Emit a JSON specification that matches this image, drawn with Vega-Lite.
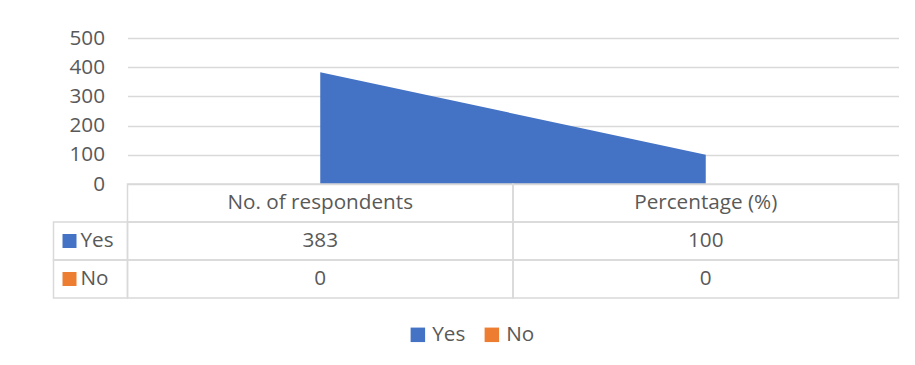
{
  "$schema": "https://vega.github.io/schema/vega-lite/v6.json",
  "width": 771,
  "height": 260,
  "autosize": {"type": "none"},
  "padding": {"left": 127.5, "top": 38, "right": 16.5, "bottom": 67},
  "background": "white",
  "config": {
    "view": {"stroke": null},
    "font": "Open Sans",
    "text": {"font": "Open Sans", "fontSize": 20.7, "fill": "#595959"}
  },
  "data": {
    "values": [
      {"series": "Yes", "category": "No. of respondents", "value": 383},
      {"series": "Yes", "category": "Percentage (%)", "value": 100},
      {"series": "No", "category": "No. of respondents", "value": 0},
      {"series": "No", "category": "Percentage (%)", "value": 0}
    ]
  },
  "resolve": {"scale": {"x": "independent", "y": "independent", "color": "independent"}},
  "layer": [
    {
      "mark": {"type": "area", "opacity": 1},
      "encoding": {
        "x": {"field": "category", "type": "nominal", "sort": null, "scale": {"type": "point", "domain": ["No. of respondents", "Percentage (%)"], "padding": 0.5}, "axis": null},
        "y": {"field": "value", "type": "quantitative", "stack": null,
          "scale": {"domain": [0, 500], "range": [146, 0], "nice": false, "zero": true},
          "axis": {"values": [0, 100, 200, 300, 400, 500], "grid": true, "gridColor": "#D9D9D9", "gridWidth": 1.5, "domain": false, "ticks": false, "tickSize": 0, "labelPadding": 23, "labelFontSize": 20.7, "labelColor": "#595959", "labelFont": "Open Sans", "title": null}},
        "color": {"field": "series", "type": "nominal",
          "scale": {"domain": ["Yes", "No"], "range": ["#4472C4", "#ED7D31"]},
          "legend": {"orient": "none", "legendX": 280, "legendY": 286, "direction": "horizontal", "title": null, "symbolType": "square", "symbolSize": 210, "symbolStrokeWidth": 0, "symbolOpacity": 1, "labelFontSize": 20.7, "labelColor": "#595959", "labelFont": "Open Sans", "labelOffset": 4, "columnPadding": 16, "padding": 0}}
      }
    },
    {
      "mark": {"type": "rect", "fill": "transparent", "stroke": "#D9D9D9", "strokeWidth": 1.5},
      "encoding": {
        "x": {"field": "category", "type": "nominal", "scale": {"type": "band", "domain": ["No. of respondents", "Percentage (%)"], "paddingInner": 0, "paddingOuter": 0}, "axis": null},
        "y": {"field": "series", "type": "nominal", "scale": {"type": "band", "domain": ["header", "Yes", "No"], "range": [146, 260], "paddingInner": 0, "paddingOuter": 0}, "axis": null}
      }
    },
    {
      "transform": [{"filter": "datum.series === 'Yes'"}],
      "mark": {"type": "rect", "fill": "transparent", "stroke": "#D9D9D9", "strokeWidth": 1.5},
      "encoding": {
        "x": {"field": "category", "type": "nominal", "scale": {"type": "band", "domain": ["No. of respondents", "Percentage (%)"], "paddingInner": 0, "paddingOuter": 0}, "axis": null},
        "y": {"datum": "header", "type": "nominal", "scale": {"type": "band", "domain": ["header", "Yes", "No"], "range": [146, 260], "paddingInner": 0, "paddingOuter": 0}, "axis": null}
      }
    },
    {
      "transform": [{"filter": "datum.category === 'No. of respondents'"}],
      "mark": {"type": "rect", "fill": "transparent", "stroke": "#D9D9D9", "strokeWidth": 1.5},
      "encoding": {
        "x": {"datum": "label", "type": "nominal", "scale": {"type": "band", "domain": ["label"], "range": [-74, 0], "paddingInner": 0, "paddingOuter": 0}, "axis": null},
        "y": {"field": "series", "type": "nominal", "scale": {"type": "band", "domain": ["header", "Yes", "No"], "range": [146, 260], "paddingInner": 0, "paddingOuter": 0}, "axis": null}
      }
    },
    {
      "mark": {"type": "text", "baseline": "middle", "align": "center"},
      "encoding": {
        "x": {"field": "category", "type": "nominal", "scale": {"type": "band", "domain": ["No. of respondents", "Percentage (%)"], "paddingInner": 0, "paddingOuter": 0}, "axis": null},
        "y": {"field": "series", "type": "nominal", "scale": {"type": "band", "domain": ["header", "Yes", "No"], "range": [146, 260], "paddingInner": 0, "paddingOuter": 0}, "axis": null},
        "text": {"field": "value", "type": "quantitative"}
      }
    },
    {
      "transform": [{"filter": "datum.series === 'Yes'"}],
      "mark": {"type": "text", "baseline": "middle", "align": "center"},
      "encoding": {
        "x": {"field": "category", "type": "nominal", "scale": {"type": "band", "domain": ["No. of respondents", "Percentage (%)"], "paddingInner": 0, "paddingOuter": 0}, "axis": null},
        "y": {"datum": "header", "type": "nominal", "scale": {"type": "band", "domain": ["header", "Yes", "No"], "range": [146, 260], "paddingInner": 0, "paddingOuter": 0}, "axis": null},
        "text": {"field": "category", "type": "nominal"}
      }
    },
    {
      "transform": [{"filter": "datum.category === 'No. of respondents'"}],
      "mark": {"type": "point", "shape": "square", "filled": true, "size": 196, "opacity": 1, "xOffset": 16},
      "encoding": {
        "x": {"datum": "label", "type": "nominal", "bandPosition": 0, "scale": {"type": "band", "domain": ["label"], "range": [-74, 0], "paddingInner": 0, "paddingOuter": 0}, "axis": null},
        "y": {"field": "series", "type": "nominal", "scale": {"type": "band", "domain": ["header", "Yes", "No"], "range": [146, 260], "paddingInner": 0, "paddingOuter": 0}, "axis": null},
        "color": {"field": "series", "type": "nominal", "scale": {"domain": ["Yes", "No"], "range": ["#4472C4", "#ED7D31"]}, "legend": null}
      }
    },
    {
      "transform": [{"filter": "datum.category === 'No. of respondents'"}],
      "mark": {"type": "text", "baseline": "middle", "align": "left", "dx": 27},
      "encoding": {
        "x": {"datum": "label", "type": "nominal", "bandPosition": 0, "scale": {"type": "band", "domain": ["label"], "range": [-74, 0], "paddingInner": 0, "paddingOuter": 0}, "axis": null},
        "y": {"field": "series", "type": "nominal", "scale": {"type": "band", "domain": ["header", "Yes", "No"], "range": [146, 260], "paddingInner": 0, "paddingOuter": 0}, "axis": null},
        "text": {"field": "series", "type": "nominal"}
      }
    }
  ]
}
